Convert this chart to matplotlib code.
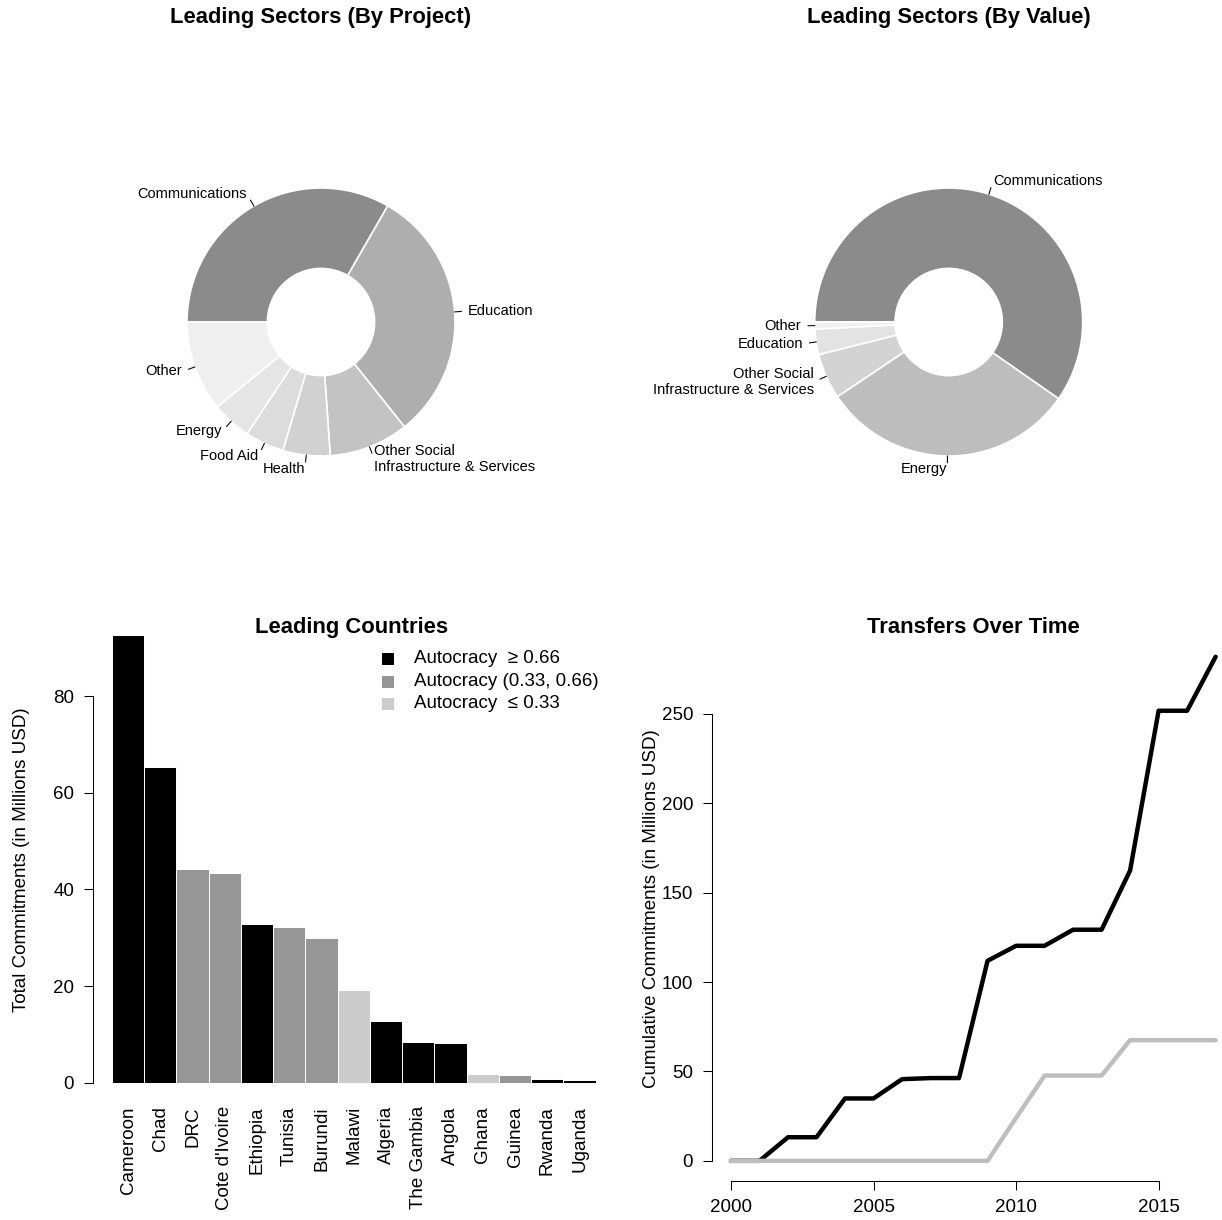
import numpy as np
import matplotlib
matplotlib.use("Agg")
import matplotlib.pyplot as plt
from matplotlib.patches import Rectangle

plt.rcParams['font.family'] = ['Liberation Sans', 'DejaVu Sans']

# sector shares by number of projects (percent)
project_sectors = ["Communications", "Education",
                   "Other Social\nInfrastructure & Services",
                   "Health", "Food Aid", "Energy", "Other"]
project_shares = [33.3, 31.0, 9.6, 5.7, 4.7, 4.8, 10.9]
project_colors = ["#8b8b8b", "#aeaeae", "#c3c3c3", "#d1d1d1",
                  "#dcdcdc", "#e5e5e5", "#efefef"]

# sector shares by committed value (percent)
value_sectors = ["Communications", "Energy",
                 "Other Social\nInfrastructure & Services",
                 "Education", "Other"]
value_shares = [59.7, 30.9, 5.5, 3.05, 0.85]
value_colors = ["#8b8b8b", "#bdbdbd", "#d3d3d3", "#e3e3e3", "#f0f0f0"]

# total commitments per recipient country (millions USD)
countries = ["Cameroon", "Chad", "DRC", "Cote d'Ivoire", "Ethiopia", "Tunisia",
             "Burundi", "Malawi", "Algeria", "The Gambia", "Angola", "Ghana",
             "Guinea", "Rwanda", "Uganda"]
commitments = [92.6, 65.3, 44.2, 43.4, 32.9, 32.2, 30.0, 19.3, 12.8, 8.5,
               8.3, 1.8, 1.55, 0.9, 0.65]
autocracy = ["high", "high", "mid", "mid", "high", "mid", "mid", "low", "high",
             "high", "high", "low", "mid", "high", "high"]
group_colors = {"high": "#000000", "mid": "#969696", "low": "#cccccc"}
group_labels = {"high": "Autocracy  \u2265 0.66",
                "mid": "Autocracy (0.33, 0.66)",
                "low": "Autocracy  \u2264 0.33"}

# cumulative commitments over time (millions USD)
years = list(range(2000, 2018))
cumulative_main = [0, 0, 13.2, 13.2, 34.9, 34.9, 45.7, 46.3, 46.3, 111.9,
                   120.3, 120.3, 129.3, 129.3, 162.4, 251.8, 251.8, 282.0]
cumulative_secondary = [0, 0, 0, 0, 0, 0, 0, 0, 0, 0,
                        24.0, 47.7, 47.7, 47.7, 67.5, 67.5, 67.5, 67.5]

W, H = 1222, 1220
fig = plt.figure(figsize=(W / 100, H / 100), dpi=100, facecolor="white")


def box(left, top, right, bottom):
    # pixel rectangle -> figure fraction rectangle
    return [left / W, 1 - bottom / H, (right - left) / W, (bottom - top) / H]


def donut(cx, cy, labels, values, colors, title):
    ax = fig.add_axes(box(cx - 300, cy - 300, cx + 300, cy + 300))
    r = 134
    ax.pie(values, colors=colors, radius=r, startangle=180, counterclock=False,
           wedgeprops=dict(width=r * 0.6, edgecolor="white", linewidth=1.2))
    ax.set_xlim(-300, 300)
    ax.set_ylim(-300, 300)
    ax.set_aspect("equal")
    ax.axis("off")

    total = float(sum(values))
    before = 0.0
    for lab, v in zip(labels, values):
        mid = np.deg2rad(180 - 360 * (before + v / 2) / total)
        before += v
        px, py = r * np.cos(mid), r * np.sin(mid)
        ax.plot([px, 1.05 * px], [py, 1.05 * py], color="black", lw=0.75,
                clip_on=False)
        ax.text(1.1 * px, 1.1 * py, lab, fontsize=10.5,
                ha="right" if px < 0 else "left", va="center",
                multialignment="right" if px < 0 else "left", clip_on=False)

    fig.text(cx / W, 1 - 18 / H, title, ha="center", va="center",
             fontsize=15.8, fontweight="bold")


donut(321, 322, project_sectors, project_shares, project_colors,
      "Leading Sectors (By Project)")
donut(948.7, 322, value_sectors, value_shares, value_colors,
      "Leading Sectors (By Value)")

# bar chart of leading countries
ax = fig.add_axes(box(92.6, 617, 615, 1105.5))
n = len(countries)
xs = np.arange(n)
ax.bar(xs, commitments, width=1, align="edge",
       color=[group_colors[g] for g in autocracy],
       edgecolor="white", linewidth=0.7)
top = max(commitments)
lo = -0.01 * top
span = top - lo
ax.set_xlim(-0.04 * n, n + 0.04 * n)
ax.set_ylim(lo - 0.04 * span, top + 0.04 * span)
for s in ["top", "right", "bottom"]:
    ax.spines[s].set_visible(False)
ax.spines["left"].set_bounds(0, 80)
ax.spines["left"].set_linewidth(0.75)
ax.set_yticks([0, 20, 40, 60, 80])
ax.tick_params(axis="y", length=6.5, width=0.75, pad=6.8, labelsize=13.5)
ax.set_xticks(xs + 0.5)
ax.set_xticklabels(countries, rotation=90)
ax.tick_params(axis="x", length=0, pad=0.5, labelsize=13.5)
ax.set_facecolor("none")

fig.text(352 / W, 1 - 627 / H, "Leading Countries", ha="center", va="center",
         fontsize=15.8, fontweight="bold")
fig.text(22 / W, 1 - 860 / H, "Total Commitments (in Millions USD)",
         rotation=90, ha="center", va="center", fontsize=13.5)

for i, g in enumerate(["high", "mid", "low"]):
    yc = 659 + i * 22.5
    fig.patches.append(Rectangle((382 / W, 1 - (yc + 6) / H), 12 / W, 12 / H,
                                 transform=fig.transFigure,
                                 facecolor=group_colors[g], edgecolor="none"))
    fig.text(414 / W, 1 - yc / H, group_labels[g], ha="left", va="center",
             fontsize=13.5)

# cumulative transfers over time
ax2 = fig.add_axes(box(711.6, 636.6, 1235, 1181))
ax2.plot(years, cumulative_main, color="black", lw=3.2,
         solid_capstyle="round", solid_joinstyle="round")
ax2.plot(years, cumulative_secondary, color="#bebebe", lw=3.2,
         solid_capstyle="round", solid_joinstyle="round")
yr_span = years[-1] - years[0]
ax2.set_xlim(years[0] - 0.04 * yr_span, years[-1] + 0.04 * yr_span)
ymax = max(cumulative_main)
ax2.set_ylim(-0.04 * ymax, ymax * 1.04)
for s in ["top", "right"]:
    ax2.spines[s].set_visible(False)
ax2.spines["left"].set_bounds(0, 250)
ax2.spines["bottom"].set_bounds(2000, 2015)
ax2.spines["left"].set_linewidth(0.75)
ax2.spines["bottom"].set_linewidth(0.75)
ax2.set_xticks([2000, 2005, 2010, 2015])
ax2.set_yticks([0, 50, 100, 150, 200, 250])
ax2.tick_params(length=6.5, width=0.75, pad=6.8, labelsize=13.5)
ax2.set_facecolor("none")

fig.text(973 / W, 1 - 627 / H, "Transfers Over Time", ha="center",
         va="center", fontsize=15.8, fontweight="bold")
fig.text(652 / W, 1 - 909 / H, "Cumulative Commitments (in Millions USD)",
         rotation=90, ha="center", va="center", fontsize=13.5)

fig.savefig("out.png", dpi=100, facecolor="white")
